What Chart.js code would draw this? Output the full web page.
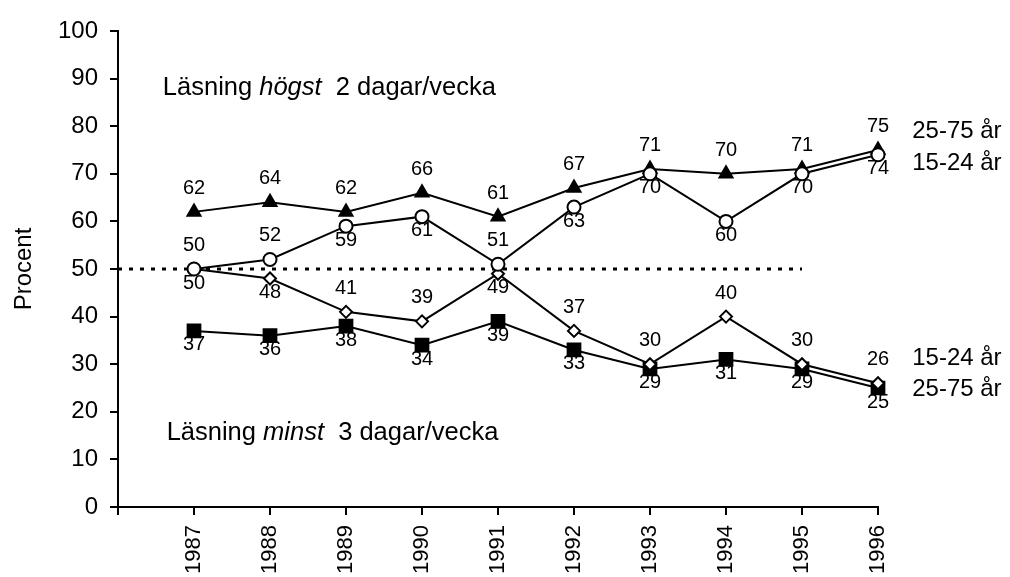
<!DOCTYPE html>
<html lang="sv">
<head>
<meta charset="UTF-8">
<title>Läsning högst / minst dagar per vecka</title>
<script src="https://cdn.jsdelivr.net/npm/chart.js"></script>
<style>
  * { margin: 0; padding: 0; box-sizing: border-box; }
  body { background: #fff; }
  #wrap { width: 1010px; height: 577px; }
</style>
</head>
<body>
<div id="wrap"><canvas id="chart" width="1010" height="577"></canvas></div>
<script>
// data
const years = [1987, 1988, 1989, 1990, 1991, 1992, 1993, 1994, 1995, 1996];
const high2575 = [62, 64, 62, 66, 61, 67, 71, 70, 71, 75];   // triangles
const high1524 = [50, 52, 59, 61, 51, 63, 70, 60, 70, 74];   // open circles
const low1524  = [50, 48, 41, 39, 49, 37, 30, 40, 30, 26];   // open diamonds
const low2575  = [37, 36, 38, 34, 39, 33, 29, 31, 29, 25];   // filled squares
const refYears = [1986, 1995];
const refValue = 50;
const yTicks = [0, 10, 20, 30, 40, 50, 60, 70, 80, 90, 100];

// where each value label sits: a = above the point, b = below
const placeHigh2575 = ['a','a','a','a','a','a','a','a','a','a'];
const placeHigh1524 = ['a','a','b','b','a','b','b','b','b','b'];
const placeLow1524  = ['b','b','a','a','b','a','a','a','a','a'];
const placeLow2575  = ['b','b','b','b','b','b','b','b','b','b'];

const FONT = "'Liberation Sans', Arial, sans-serif";
Chart.defaults.font.family = FONT;
Chart.defaults.color = '#000';

const pts = vals => vals.map((v, i) => ({ x: years[i], y: v }));

function series(vals, style, radius, fill, place) {
  return {
    data: pts(vals),
    borderColor: '#000',
    borderWidth: 2,
    pointStyle: style,
    pointRadius: radius,
    pointBackgroundColor: fill,
    pointBorderColor: '#000',
    pointBorderWidth: 2,
    tension: 0,
    clip: false,
    place: place
  };
}

// notes placed in data units
const notes = [
  { x: 1986.59, y: 86.5, parts: [['Läsning ', ''], ['högst', 'italic '], ['  2 dagar/vecka', '']], size: 25.5 },
  { x: 1986.64, y: 14.1, parts: [['Läsning ', ''], ['minst', 'italic '], ['  3 dagar/vecka', '']], size: 25.5 },
  { x: 1996.45, y: 77.5, parts: [['25-75 år', '']], size: 24 },
  { x: 1996.45, y: 70.8, parts: [['15-24 år', '']], size: 24 },
  { x: 1996.45, y: 29.8, parts: [['15-24 år', '']], size: 24 },
  { x: 1996.45, y: 23.3, parts: [['25-75 år', '']], size: 24 }
];

const labelPlugin = {
  id: 'labels',
  afterDatasetsDraw(chart) {
    const ctx = chart.ctx;
    ctx.save();
    ctx.fillStyle = '#000';
    ctx.textAlign = 'center';
    ctx.font = '20px ' + FONT;
    chart.data.datasets.forEach((ds, di) => {
      if (!ds.place) return;
      const meta = chart.getDatasetMeta(di);
      meta.data.forEach((p, i) => {
        const txt = String(ds.data[i].y);
        if (ds.place[i] === 'a') {
          ctx.textBaseline = 'alphabetic';
          ctx.fillText(txt, p.x, p.y - 18);
        } else {
          ctx.textBaseline = 'top';
          ctx.fillText(txt, p.x, p.y + 4);
        }
      });
    });
    // notes
    const xs = chart.scales.x, ys = chart.scales.y;
    ctx.textAlign = 'left';
    ctx.textBaseline = 'alphabetic';
    notes.forEach(n => {
      let x = xs.getPixelForValue(n.x);
      const y = ys.getPixelForValue(n.y);
      n.parts.forEach(([t, st]) => {
        ctx.font = st + n.size + 'px ' + FONT;
        ctx.fillText(t, x, y);
        x += ctx.measureText(t).width;
      });
    });
    ctx.restore();
  }
};

new Chart(document.getElementById('chart'), {
  type: 'line',
  data: {
    datasets: [
      series(high1524, 'circle', 6.5, '#fff', placeHigh1524),
      series(high2575, 'triangle', 7.5, '#000', placeHigh2575),
      series(low1524, 'rectRot', 6, '#fff', placeLow1524),
      series(low2575, 'rect', 9, '#000', placeLow2575),
      {
        data: refYears.map(x => ({ x: x, y: refValue })),
        borderColor: '#000',
        borderWidth: 3,
        borderDash: [4, 7],
        pointRadius: 0
      }
    ]
  },
  options: {
    responsive: false,
    animation: false,
    layout: { padding: { top: 31, right: 132, left: 0, bottom: 0 } },
    plugins: { legend: { display: false }, tooltip: { enabled: false } },
    scales: {
      x: {
        type: 'linear',
        min: 1986,
        max: 1996,
        afterFit: s => { s.height = 70; },
        afterBuildTicks: s => { s.ticks = [1986].concat(years).map(v => ({ value: v })); },
        border: { display: true, color: '#000', width: 2 },
        grid: { display: true, drawOnChartArea: false, drawTicks: true, tickLength: 8, color: '#000', lineWidth: 2 },
        ticks: {
          minRotation: 90,
          maxRotation: 90,
          padding: 10,
          font: { size: 22 },
          callback: v => (v === 1986 ? '' : String(v))
        }
      },
      y: {
        min: 0,
        max: 100,
        afterFit: s => { s.width = 118; },
        afterBuildTicks: s => { s.ticks = yTicks.map(v => ({ value: v })); },
        border: { display: true, color: '#000', width: 2 },
        grid: { display: true, drawOnChartArea: false, drawTicks: true, tickLength: 8, color: '#000', lineWidth: 2 },
        ticks: { padding: 12, font: { size: 24 } },
        title: { display: true, text: 'Procent', font: { size: 24 }, padding: { top: 10, bottom: 0 } }
      }
    }
  },
  plugins: [labelPlugin]
});
</script>
</body>
</html>
